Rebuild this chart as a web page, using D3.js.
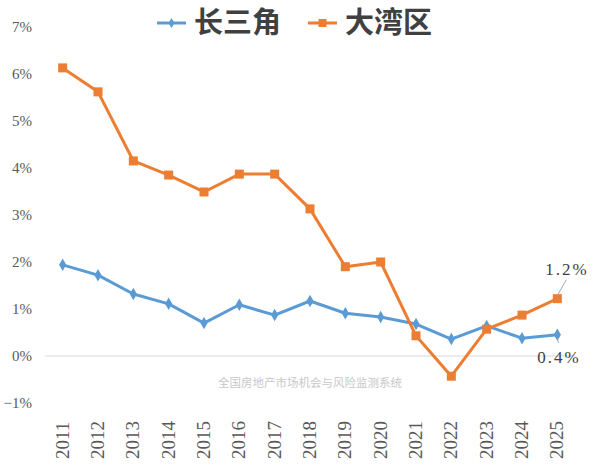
<!DOCTYPE html>
<html>
<head>
<meta charset="utf-8" />
<style>
  body { margin: 0; background: #ffffff; }
  svg text.cjk { font-family: "Noto Sans CJK SC", sans-serif; }
</style>
<script src="https://cdnjs.cloudflare.com/ajax/libs/d3/7.8.5/d3.min.js"></script>
</head>
<body>
<div id="graph"></div>
<script>
  var years = ['2011','2012','2013','2014','2015','2016','2017','2018','2019','2020','2021','2022','2023','2024','2025'];
  var yrd = [1.94, 1.72, 1.32, 1.11, 0.70, 1.09, 0.87, 1.17, 0.91, 0.83, 0.68, 0.36, 0.64, 0.38, 0.45];
  var gba = [6.13, 5.62, 4.15, 3.85, 3.49, 3.87, 3.87, 3.13, 1.90, 2.00, 0.43, -0.43, 0.57, 0.87, 1.22];
  var yTicks = [-1, 0, 1, 2, 3, 4, 5, 6, 7];
  var seriesNames = ['长三角', '大湾区'];

  var w = 595, h = 476;
  var serif = "Liberation Serif";
  var svg = d3.select('#graph').append('svg')
    .attr('width', w).attr('height', h);

  var x = d3.scaleBand().domain(years).range([45, 575]);
  var y = d3.scaleLinear().domain([-1, 7]).range([403, 27]);
  var cx = d => x(d) + x.bandwidth() / 2;

  // y axis labels
  svg.append('g').selectAll('text')
    .data(yTicks).enter().append('text')
    .attr('x', 32).attr('y', d => y(d))
    .attr('dy', '0.35em')
    .attr('text-anchor', 'end')
    .attr('font-family', serif)
    .attr('font-size', 15)
    .attr('fill', '#595959')
    .text(d => (d < 0 ? '\u2212' + Math.abs(d) : d) + '%');

  // zero line
  svg.append('line')
    .attr('x1', 45).attr('x2', 575)
    .attr('y1', y(0)).attr('y2', y(0))
    .attr('stroke', '#d9d9d9').attr('stroke-width', 1);

  // x labels, rotated
  svg.append('g').selectAll('text')
    .data(years).enter().append('text')
    .attr('transform', d => `translate(${cx(d) + 6},459) rotate(-90)`)
    .attr('font-family', serif)
    .attr('font-size', 19)
    .attr('fill', '#595959')
    .text(d => d);

  // watermark
  svg.append('text')
    .attr('class', 'cjk')
    .attr('x', 310).attr('y', 387)
    .attr('text-anchor', 'middle')
    .attr('font-size', 11.5)
    .attr('fill', '#c8c8c8')
    .text('全国房地产市场机会与风险监测系统');

  var line = d3.line().x((d, i) => cx(years[i])).y(d => y(d));

  // 长三角
  svg.append('path').datum(yrd)
    .attr('d', line).attr('fill', 'none')
    .attr('stroke', '#5b9bd5').attr('stroke-width', 3)
    .attr('stroke-linejoin', 'round');
  svg.append('g').selectAll('path')
    .data(yrd).enter().append('path')
    .attr('d', d3.symbol(d3.symbolDiamond, 45)())
    .attr('transform', (d, i) => `translate(${cx(years[i])},${y(d)})`)
    .attr('fill', '#5b9bd5');

  // 大湾区
  svg.append('path').datum(gba)
    .attr('d', line).attr('fill', 'none')
    .attr('stroke', '#ed7d31').attr('stroke-width', 3)
    .attr('stroke-linejoin', 'round');
  svg.append('g').selectAll('rect')
    .data(gba).enter().append('rect')
    .attr('x', (d, i) => cx(years[i]) - 4.5)
    .attr('y', d => y(d) - 4.5)
    .attr('width', 9).attr('height', 9)
    .attr('fill', '#ed7d31');

  // data labels for 2025
  var last = years[years.length - 1];
  svg.append('line')
    .attr('x1', cx(last)).attr('y1', y(gba[gba.length - 1]) - 3)
    .attr('x2', cx(last) + 9).attr('y2', y(gba[gba.length - 1]) - 19)
    .attr('stroke', '#a6a6a6').attr('stroke-width', 1);
  svg.append('text')
    .attr('x', 567).attr('y', 269).attr('dy', '0.35em')
    .attr('text-anchor', 'middle')
    .attr('font-family', serif)
    .attr('font-size', 17).attr('fill', '#404040')
    .attr('letter-spacing', 2)
    .text('1.2%');
  svg.append('line')
    .attr('x1', cx(last)).attr('y1', y(yrd[yrd.length - 1]) + 3)
    .attr('x2', cx(last) + 1).attr('y2', y(yrd[yrd.length - 1]) + 8)
    .attr('stroke', '#a6a6a6').attr('stroke-width', 1);
  svg.append('text')
    .attr('x', 559).attr('y', 357).attr('dy', '0.35em')
    .attr('text-anchor', 'middle')
    .attr('font-family', serif)
    .attr('font-size', 17).attr('fill', '#404040')
    .attr('letter-spacing', 2)
    .text('0.4%');

  // legend
  var legend = svg.append('g');
  var legX = [157, 308];
  var legColors = ['#5b9bd5', '#ed7d31'];
  seriesNames.forEach(function (name, i) {
    var g = legend.append('g').attr('transform', `translate(${legX[i]},23)`);
    g.append('line').attr('x1', 0).attr('x2', 29)
      .attr('stroke', legColors[i]).attr('stroke-width', 3);
    if (i === 0) {
      g.append('path').attr('d', d3.symbol(d3.symbolDiamond, 30)())
        .attr('transform', 'translate(14.5,0)').attr('fill', legColors[i]);
    } else {
      g.append('rect').attr('x', 10.5).attr('y', -4).attr('width', 8).attr('height', 8)
        .attr('fill', legColors[i]);
    }
    g.append('text').attr('class', 'cjk')
      .attr('x', 37).attr('dy', '0.36em')
      .attr('font-size', 29).attr('font-weight', 'bold')
      .attr('fill', '#404040')
      .text(name);
  });
</script>
</body>
</html>
